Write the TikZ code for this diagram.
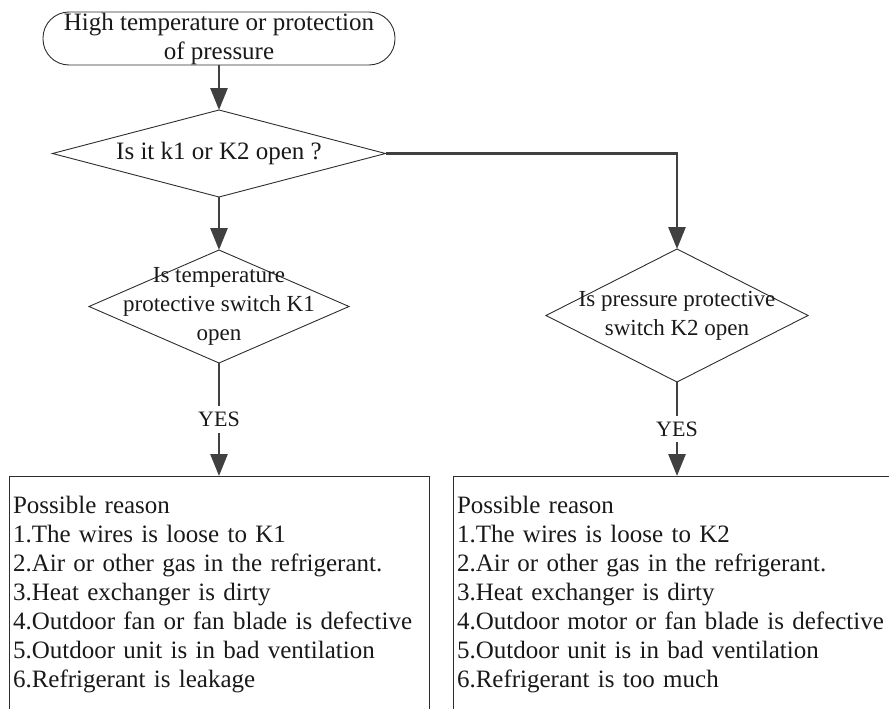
\documentclass[tikz,border=0pt]{standalone}
\usepackage{fontspec}
\setmainfont{Liberation Serif}
\usetikzlibrary{arrows.meta,positioning,shapes.geometric}
\definecolor{flowline}{RGB}{64,64,64}
\definecolor{shapeline}{RGB}{45,45,45}

\begin{document}
\begin{tikzpicture}[
  x=1pt, y=1pt,
  every node/.style={font=\fontsize{25}{29}\selectfont, text=black!90},
  term/.style={draw=shapeline, line width=0.9pt, rounded corners=26pt, align=center,
               minimum width=352pt, minimum height=53pt, inner sep=0pt, outer sep=0pt},
  decision/.style={draw=shapeline, line width=0.9pt, diamond, inner sep=0pt, outer sep=0pt},
  qtext/.style={align=center, inner sep=0pt, font=\fontsize{23}{29}\selectfont},
  yeslabel/.style={fill=white, inner xsep=2pt, inner ysep=6pt, font=\fontsize{22}{26}\selectfont},
  reasonbox/.style={draw=shapeline, line width=0.9pt, align=left,
                    inner xsep=4pt, inner ysep=20pt, outer sep=0pt},
  arr/.style={-{Triangle[length=22pt, width=17pt]}, draw=flowline, line width=2.8pt}
]
\clip (0,0) rectangle (889,-709);

\node[term] (start) at (219,-38.5) {High temperature or protection\\of pressure};
\node[decision, minimum width=333pt, minimum height=87pt, below=45pt of start] (q0) {};
\node[qtext, font=\fontsize{25}{29}\selectfont] (q0t) at (q0) {Is it k1 or K2 open ?};
\node[decision, minimum width=260pt, minimum height=113pt, below=53pt of q0] (q1) {};
\node[qtext] (q1t) at (q1) {Is temperature\\protective switch K1\\open};
\node[decision, minimum width=262pt, minimum height=133pt] (q2) at (677,-315.5) {};
\node[qtext] (q2t) at (q2) {Is pressure protective\\switch K2 open};

\node[reasonbox, text width=412pt, below=113pt of q1] (r1) {Possible reason\\
  1.The wires is loose to K1\\
  2.Air or other gas in the refrigerant.\\
  3.Heat exchanger is dirty\\
  4.Outdoor fan or fan blade is defective\\
  5.Outdoor unit is in bad ventilation\\
  6.Refrigerant is leakage\\~};
\node[reasonbox, text width=440pt, below=94pt of q2] (r2) {Possible reason\\
  1.The wires is loose to K2\\
  2.Air or other gas in the refrigerant.\\
  3.Heat exchanger is dirty\\
  4.Outdoor motor or fan blade is defective\\
  5.Outdoor unit is in bad ventilation\\
  6.Refrigerant is too much\\~};

\draw[arr] (start) -- (q0);
\draw[arr] (q0) -- (q1);
\draw[arr] (q0.east) -| (q2.north);
\draw[arr] (q1) -- node[yeslabel] (yes1) {YES} (r1);
\draw[arr] (q2) -- node[yeslabel] (yes2) {YES} (r2);
\end{tikzpicture}
\end{document}
